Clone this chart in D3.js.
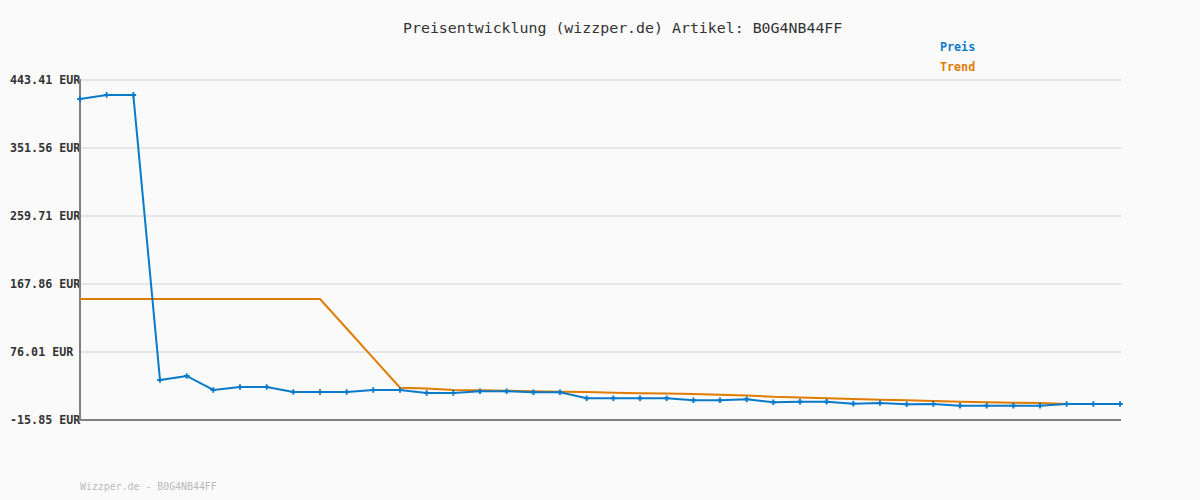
<!DOCTYPE html>
<meta charset="utf-8">
<html>
  <head>
    <script src="https://d3js.org/d3.v7.min.js" type="text/javascript"></script>
    <style>
      body { margin: 0; background: #fafafa; }
      text { font-family: "DejaVu Sans Mono", monospace; }
    </style>
  </head>
  <body>
    <div id="chart"></div>
    <script type="text/javascript">

      // price per day (EUR)
      var preis = [417.7, 423.2, 423.2, 38.2, 43.6, 24.7, 28.7, 28.7, 22.0, 22.0,
                   22.0, 24.7, 24.7, 20.7, 20.7, 23.0, 23.0, 21.6, 21.6, 13.5,
                   13.5, 13.5, 13.5, 10.8, 10.8, 12.1, 8.1, 8.9, 8.9, 6.2,
                   7.1, 5.4, 5.8, 3.5, 3.5, 3.5, 3.5, 5.8, 5.8, 5.8];

      var trend = [147.6, 147.6, 147.6, 147.6, 147.6, 147.6, 147.6, 147.6, 147.6, 147.6,
                   107.7, 67.7, 27.8, 26.7, 24.7, 24.3, 23.7, 22.9, 22.4, 22.0,
                   21.0, 20.2, 19.9, 19.3, 18.3, 17.3, 15.5, 14.6, 13.5, 12.5,
                   11.6, 10.8, 9.8, 8.9, 8.1, 7.5, 7.1, 5.8, 5.8, 5.8];

      var yTicks = [-15.85, 76.01, 167.86, 259.71, 351.56, 443.41];
      var yTickLabels = ["-15.85 EUR", "76.01 EUR", "167.86 EUR", "259.71 EUR", "351.56 EUR", "443.41 EUR"];

      var width = 1200, height = 500;
      var blue = "#0a7ac8", orange = "#e07b00";

      var svg = d3.select("#chart").append("svg")
          .attr("width", width)
          .attr("height", height)
          .style("background", "#fafafa");

      var x = d3.scaleLinear().domain([0, preis.length - 1]).range([80, 1120]);
      var y = d3.scaleLinear().domain([yTicks[0], yTicks[yTicks.length - 1]]).range([420, 80]);

      // grid lines
      svg.append("g").selectAll("line")
        .data(yTicks.slice(1))
        .enter().append("line")
          .attr("x1", 80).attr("x2", 1121)
          .attr("y1", function(d) { return y(d); })
          .attr("y2", function(d) { return y(d); })
          .attr("stroke", "#e6e6e6")
          .attr("stroke-width", 2);

      // tick labels (left aligned like the original)
      svg.append("g").selectAll("text")
        .data(yTicks)
        .enter().append("text")
          .attr("x", 10)
          .attr("y", function(d) { return y(d); })
          .attr("dy", "0.35em")
          .attr("font-size", "11.7px")
          .attr("font-weight", "bold")
          .attr("fill", "#333")
          .text(function(d, i) { return yTickLabels[i]; });

      // axes
      svg.append("line").attr("x1", 80).attr("x2", 80).attr("y1", 79).attr("y2", 421)
        .attr("stroke", "#808080").attr("stroke-width", 2);
      svg.append("line").attr("x1", 79).attr("x2", 1121).attr("y1", 420).attr("y2", 420)
        .attr("stroke", "#808080").attr("stroke-width", 2);

      var line = d3.line()
          .x(function(d, i) { return x(i); })
          .y(function(d) { return y(d); });

      svg.append("path").datum(trend)
        .attr("d", line)
        .attr("fill", "none")
        .attr("stroke", orange)
        .attr("stroke-width", 2);

      svg.append("path").datum(preis)
        .attr("d", line)
        .attr("fill", "none")
        .attr("stroke", blue)
        .attr("stroke-width", 2);

      // "+" markers on the price points
      var cross = d3.symbol().type(d3.symbolCross).size(18);
      svg.append("g").selectAll("path")
        .data(preis)
        .enter().append("path")
          .attr("d", cross)
          .attr("transform", function(d, i) { return "translate(" + x(i) + "," + y(d) + ")"; })
          .attr("fill", blue);

      // title
      svg.append("text")
        .attr("x", 403).attr("y", 28)
        .attr("dy", "0.35em")
        .attr("font-size", "14.9px")
        .attr("fill", "#333")
        .text("Preisentwicklung (wizzper.de) Artikel: B0G4NB44FF");

      // legend
      svg.append("text").attr("x", 940).attr("y", 47).attr("dy", "0.35em")
        .attr("font-size", "11.7px").attr("font-weight", "bold").attr("fill", blue).text("Preis");
      svg.append("text").attr("x", 940).attr("y", 67).attr("dy", "0.35em")
        .attr("font-size", "11.7px").attr("font-weight", "bold").attr("fill", orange).text("Trend");

      // footer
      svg.append("text").attr("x", 80).attr("y", 487).attr("dy", "0.35em")
        .attr("font-size", "9.9px").attr("fill", "#bbb").text("Wizzper.de - B0G4NB44FF");
    </script>
  </body>
</html>
